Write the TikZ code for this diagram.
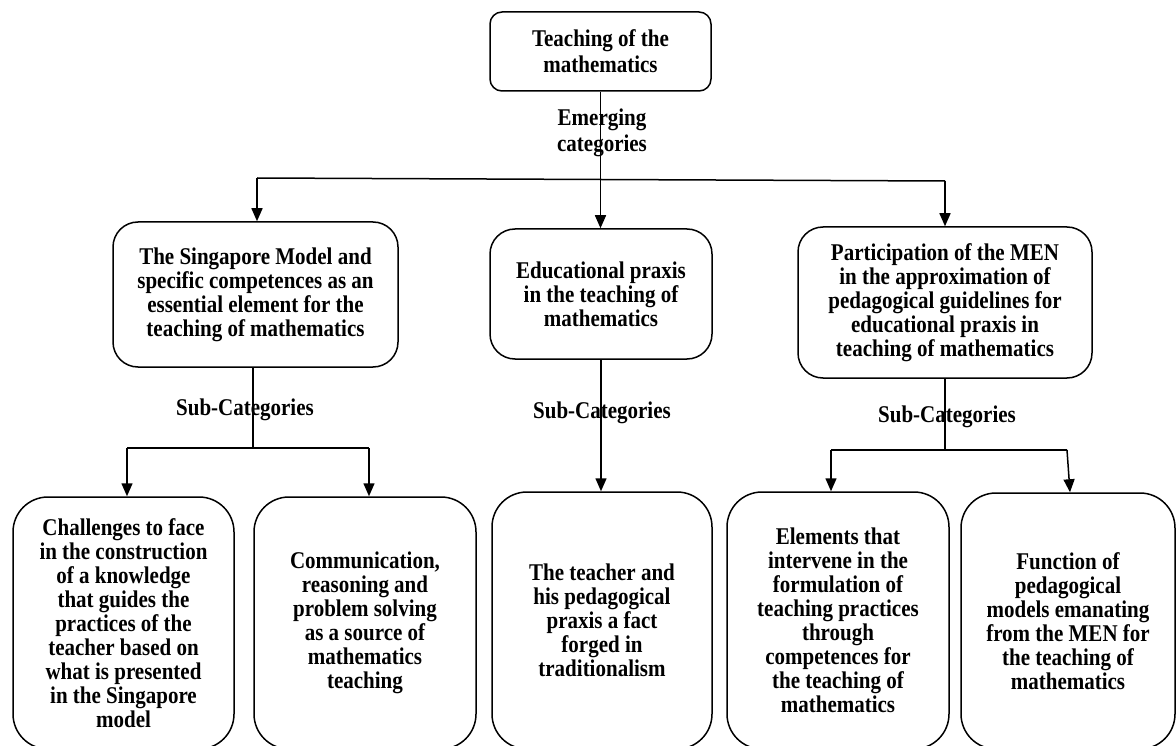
\documentclass[tikz,border=0pt]{standalone}
\usepackage{fontspec}
\setmainfont{Liberation Serif}
\newfontfamily\tallfont[FakeStretch=0.875]{Liberation Serif}
\usetikzlibrary{arrows.meta,calc}
\tikzset{
  box/.style={draw, line width=1.5pt, align=center, inner sep=0pt, font=\tallfont\fontsize{24pt}{24pt}\selectfont\bfseries},
  lbl/.style={align=center, inner sep=0pt, font=\tallfont\fontsize{24pt}{26pt}\selectfont\bfseries},
  conn/.style={line width=1.5pt},
  arr/.style={line width=1.5pt, -{Triangle[length=13pt,width=11pt]}},
}
\begin{document}
\begin{tikzpicture}[x=1pt,y=-1pt]
\useasboundingbox (0,0) rectangle (1176,746);
\clip (0,0) rectangle (1176,746);
% boxes
\node[box, rounded corners=12pt, minimum width=221pt, minimum height=79pt, font=\tallfont\fontsize{24pt}{26pt}\selectfont\bfseries] (top) at (600.5,51.5) {Teaching of the\\mathematics};
\node[box, rounded corners=25pt, minimum width=285pt, minimum height=145pt] (sing) at (255.5,294.5) {The Singapore Model and\\specific competences as an\\essential element for the\\teaching of mathematics};
\node[box, rounded corners=25pt, minimum width=222pt, minimum height=130pt] (edu) at (601,294) {Educational praxis\\in the teaching of\\mathematics};
\node[box, rounded corners=25pt, minimum width=294pt, minimum height=151pt] (part) at (945,302.5) {Participation of the MEN\\in the approximation of\\pedagogical guidelines for\\educational praxis in\\teaching of mathematics};
\node[box, rounded corners=35pt, minimum width=221pt, minimum height=252pt] (b1) at (123.5,623) {Challenges to face\\in the construction\\of a knowledge\\that guides the\\practices of the\\teacher based on\\what is presented\\in the Singapore\\model};
\node[box, rounded corners=35pt, minimum width=222pt, minimum height=252pt] (b2) at (365,623) {Communication,\\reasoning and\\problem solving\\as a source of\\mathematics\\teaching};
\node[box, rounded corners=35pt, minimum width=220pt, minimum height=257pt] (b3) at (602,620.5) {The teacher and\\his pedagogical\\praxis a fact\\forged in\\traditionalism};
\node[box, rounded corners=35pt, minimum width=222pt, minimum height=257pt] (b4) at (838,620.5) {Elements that\\intervene in the\\formulation of\\teaching practices\\through\\competences for\\the teaching of\\mathematics};
\node[box, rounded corners=35pt, minimum width=214pt, minimum height=256pt] (b5) at (1068,621) {Function of\\pedagogical\\models emanating\\from the MEN for\\the teaching of\\mathematics};
% labels
\node[lbl] (emerg) at (602,133) {Emerging\\categories};
\node[lbl] (subL) at (245,410) {Sub-Categories};
\node[lbl] (subM) at (602,413) {Sub-Categories};
\node[lbl] (subR) at (947,417) {Sub-Categories};
% connector points
\coordinate (busL) at (257,178);
\coordinate (busR) at (945,181);
\coordinate (sL) at (253,448);
\coordinate (sLa) at (127,448);
\coordinate (sLb) at (369,448);
\coordinate (sR) at (945,450);
\coordinate (sRa) at (831,450);
\coordinate (sRb) at (1067,450);
% connectors
\draw[arr] (top.south) -- (top.south |- edu.north);
\draw[conn] (busL) -- (busR);
\draw[arr] (busL) -- (busL |- sing.north);
\draw[arr] (busR) -- (busR |- part.north);
\draw[conn] (sing.south -| sL) -- (sL);
\draw[conn] (sLa) -- (sLb);
\draw[arr] (sLa) -- (sLa |- b1.north);
\draw[arr] (sLb) -- (sLb |- b2.north);
\draw[arr] (edu.south) -- (edu.south |- b3.north);
\draw[conn] (part.south) -- (sR);
\draw[conn] (sRa) -- (sRb);
\draw[arr] (sRa) -- (sRa |- b4.north);
\draw[arr] (sRb) -- ($(sRb |- b5.north)+(3,0)$);
\end{tikzpicture}
\end{document}
